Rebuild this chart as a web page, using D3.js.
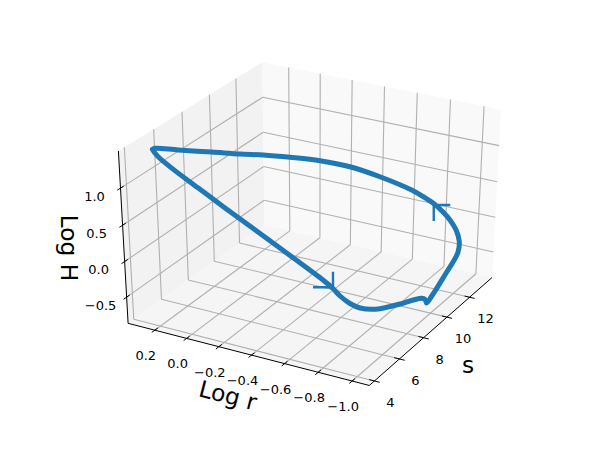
<!DOCTYPE html>
<html>
<head>
<meta charset="utf-8">
<script src="https://cdn.jsdelivr.net/npm/d3@7"></script>
<style>
  body { margin: 0; background: #fff; }
  text { font-family: "DejaVu Sans"; fill: #000; }
</style>
</head>
<body>
<div id="chart"></div>
<script>
// Data
const logR = [0.31, 0.297, 0.279, 0.207, 0.063, -0.084, -0.257, -0.441, -0.623, -0.669, -0.71, -0.762, -0.815, -0.883, -0.947, -1.011, -1.067, -1.102, -1.111, -1.111, -1.119, -1.106, -1.088, -1.063, -1.051, -1.029, -1.014, -0.995, -0.972, -0.933, -0.898, -0.858, -0.726, -0.6, -0.476, -0.345, -0.226, -0.119, 0.018, 0.182, 0.298, 0.31];
const entropy = [5.2, 5.22, 5.25, 5.35, 5.5, 5.65, 5.85, 6.05, 6.25, 6.35, 6.45, 6.55, 6.65, 6.8, 7, 7.2, 7.5, 7.7, 7.85, 8, 8.3, 8.9, 10, 10.9, 11.5, 11.9, 11.8, 11.5, 11.2, 10.9, 10.5, 10.1, 9.3, 8.6, 7.9, 7.3, 6.8, 6.4, 6, 5.55, 5.25, 5.2];
const logH = [1.347, 1.302, 1.254, 1.125, 0.914, 0.7, 0.451, 0.186, -0.081, -0.173, -0.283, -0.373, -0.42, -0.422, -0.386, -0.332, -0.288, -0.273, -0.303, -0.376, -0.317, -0.302, -0.237, -0.234, -0.181, -0.09, 0.07, 0.241, 0.379, 0.518, 0.645, 0.764, 0.979, 1.138, 1.244, 1.299, 1.333, 1.344, 1.353, 1.356, 1.36, 1.347];

const arrowR = [-0.675, -0.936];
const arrowS = [6.35, 10.9];
const arrowH = [-0.167, 0.496];

const rTicks = [0.2, 0.0, -0.2, -0.4, -0.6, -0.8, -1.0];
const sTicks = [4, 6, 8, 10, 12];
const hTicks = [-0.5, 0.0, 0.5, 1.0];

const rLim = [0.37, -1.1];
const sLim = [3.6, 14.05];
const hLim = [-0.875, 1.49];

// Dimensions
const dimensions = { width: 598, height: 456 };

// Camera
const box = [1.143, 1.143, 1.0];
const elev = (30 * Math.PI) / 180;
const azim = (-61 * Math.PI) / 180;
const dist = 10;

const n = [Math.cos(elev) * Math.cos(azim), Math.cos(elev) * Math.sin(azim), Math.sin(elev)];
const uLen = Math.hypot(n[0], n[1]);
const u = [-n[1] / uLen, n[0] / uLen, 0];
const v = [n[1] * u[2] - n[2] * u[1], n[2] * u[0] - n[0] * u[2], n[0] * u[1] - n[1] * u[0]];
const dot = (a, b) => a[0] * b[0] + a[1] * b[1] + a[2] * b[2];

// Scales
const rScale = d3.scaleLinear().domain(rLim).range([-box[0] / 2, box[0] / 2]);
const sScale = d3.scaleLinear().domain(sLim).range([-box[1] / 2, box[1] / 2]);
const hScale = d3.scaleLinear().domain(hLim).range([-box[2] / 2, box[2] / 2]);
const screenX = d3.scaleLinear().domain([-0.1, 0.1]).range([73.5, 553.5]);
const screenY = d3.scaleLinear().domain([-0.1, 0.1]).range([413.4, 20.6]);

function project(r, s, h) {
  const p = [rScale(r), sScale(s), hScale(h)];
  const w = dist - dot(n, p);
  return [screenX(dot(u, p) / w), screenY(dot(v, p) / w)];
}

const line3d = d3.line();

// Draw Image
const svg = d3
  .select("#chart")
  .append("svg")
  .attr("width", dimensions.width)
  .attr("height", dimensions.height)
  .style("display", "block");

function pane(corners, fill) {
  svg
    .append("path")
    .attr("d", line3d(corners.map((c) => project(...c))) + "Z")
    .attr("fill", fill);
}

// Panes
pane([[rLim[0], sLim[0], hLim[0]], [rLim[0], sLim[1], hLim[0]], [rLim[0], sLim[1], hLim[1]], [rLim[0], sLim[0], hLim[1]]], "#f2f2f2");
pane([[rLim[0], sLim[1], hLim[0]], [rLim[1], sLim[1], hLim[0]], [rLim[1], sLim[1], hLim[1]], [rLim[0], sLim[1], hLim[1]]], "#f9f9f9");
pane([[rLim[0], sLim[0], hLim[0]], [rLim[1], sLim[0], hLim[0]], [rLim[1], sLim[1], hLim[0]], [rLim[0], sLim[1], hLim[0]]], "#f5f5f5");

// Grid
function seg(a, b, color, width) {
  svg
    .append("path")
    .attr("d", line3d([project(...a), project(...b)]))
    .attr("fill", "none")
    .attr("stroke", color)
    .attr("stroke-width", width);
}

const gridColor = "#b0b0b0";
rTicks.forEach((r) => {
  seg([r, sLim[0], hLim[0]], [r, sLim[1], hLim[0]], gridColor, 1.1);
  seg([r, sLim[1], hLim[0]], [r, sLim[1], hLim[1]], gridColor, 1.1);
});
sTicks.forEach((s) => {
  seg([rLim[1], s, hLim[0]], [rLim[0], s, hLim[0]], gridColor, 1.1);
  seg([rLim[0], s, hLim[0]], [rLim[0], s, hLim[1]], gridColor, 1.1);
});
hTicks.forEach((h) => {
  seg([rLim[0], sLim[0], h], [rLim[0], sLim[1], h], gridColor, 1.1);
  seg([rLim[0], sLim[1], h], [rLim[1], sLim[1], h], gridColor, 1.1);
});

// Axes
seg([rLim[0], sLim[0], hLim[0]], [rLim[1], sLim[0], hLim[0]], "#000", 1);
seg([rLim[1], sLim[0], hLim[0]], [rLim[1], sLim[1], hLim[0]], "#000", 1);
seg([rLim[0], sLim[0], hLim[0]], [rLim[0], sLim[0], hLim[1]], "#000", 1);

const rStep = (rLim[1] - rLim[0]) / 12;
const sStep = (sLim[1] - sLim[0]) / 12;

function tickLabel(pos, dx, dy, label) {
  svg
    .append("text")
    .attr("x", pos[0] + dx)
    .attr("y", pos[1] + dy)
    .attr("text-anchor", "middle")
    .attr("dominant-baseline", "central")
    .attr("font-size", 13)
    .text(label);
}

const fmt = (d) => d3.format(".1f")(d).replace("-", "\u2212");

rTicks.forEach((r) => {
  seg([r, sLim[0] - sStep * 0.25, hLim[0]], [r, sLim[0] + sStep * 0.25, hLim[0]], "#000", 1);
  tickLabel(project(r, sLim[0], hLim[0]), -9, 25.5, fmt(r));
});
sTicks.forEach((s) => {
  seg([rLim[1] - rStep * 0.25, s, hLim[0]], [rLim[1] + rStep * 0.25, s, hLim[0]], "#000", 1);
  tickLabel(project(rLim[1], s, hLim[0]), 16, 21.5, String(s));
});
hTicks.forEach((h) => {
  seg([rLim[0], sLim[0] - sStep * 0.25, h], [rLim[0], sLim[0] + sStep * 0.25, h], "#000", 1);
  tickLabel(project(rLim[0], sLim[0], h), -26, 8, fmt(h));
});

// Axis labels
function axisLabel(x, y, angle, label) {
  svg
    .append("text")
    .attr("transform", `translate(${x}, ${y}) rotate(${angle})`)
    .attr("text-anchor", "middle")
    .attr("dominant-baseline", "central")
    .attr("font-size", 23.3)
    .text(label);
}

axisLabel(228, 395, 14.5, "Log r");
axisLabel(468, 364, 0, "s");
axisLabel(69, 248, 90, "Log H");

// Draw Lines
const curve = d3.line().curve(d3.curveCatmullRom.alpha(0.5));

svg
  .append("path")
  .attr("d", curve(logR.map((r, i) => project(r, entropy[i], logH[i]))))
  .attr("fill", "none")
  .attr("stroke", "#1f77b4")
  .attr("stroke-width", 5)
  .attr("stroke-linejoin", "round")
  .attr("stroke-linecap", "round");

// Arrow heads
const barbs = [
  [[-20, 0], [0, 0], [0, -15.5]],
  [[16.5, 0], [0, 0], [0, 16]],
];

arrowR.forEach((r, i) => {
  const tip = project(r, arrowS[i], arrowH[i]);
  svg
    .append("path")
    .attr("d", line3d(barbs[i].map((b) => [tip[0] + b[0], tip[1] + b[1]])))
    .attr("fill", "none")
    .attr("stroke", "#1f77b4")
    .attr("stroke-width", 2.4);
});
</script>
</body>
</html>
